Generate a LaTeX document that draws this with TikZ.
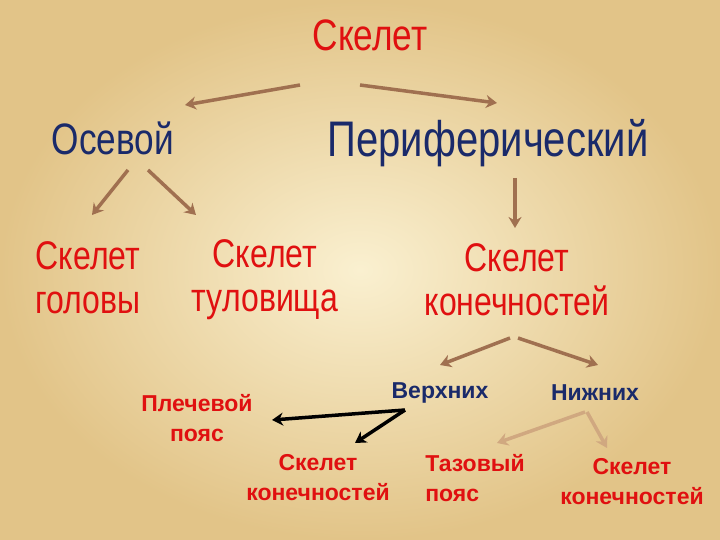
\documentclass[tikz,border=0pt]{standalone}
\usepackage{fontspec}
\setmainfont{Liberation Sans}
\newfontfamily\narrowf[FakeStretch=0.8]{Liberation Sans}
\usetikzlibrary{arrows.meta}
\definecolor{dblue}{HTML}{1A2A6A}
\definecolor{myred}{HTML}{E01010}
\definecolor{brn}{HTML}{A07050}
\definecolor{tan}{HTML}{D0A880}
\definecolor{bgin}{HTML}{FAF0D0}
\definecolor{bgout}{HTML}{E2C488}
\begin{document}
\begin{tikzpicture}[x=1pt,y=-1pt,
  big/.style={font=\narrowf\fontsize{44}{46}\selectfont, align=center},
  mid/.style={font=\narrowf\fontsize{40}{44}\selectfont, align=center, text=myred},
  sml/.style={font=\bfseries\fontsize{23}{30}\selectfont, align=center},
  ar/.style={draw=brn, line width=3.5pt, -{Stealth[length=11pt,width=13pt]}},
  bar/.style={draw=black, line width=3.5pt, -{Stealth[length=11pt,width=13pt]}},
  tar/.style={draw=tan, line width=3.5pt, -{Stealth[length=11pt,width=13pt]}}]
\shade[inner color=bgin, outer color=bgout] (0,0) rectangle (720,540);
\useasboundingbox (0,0) rectangle (720,540);
\node[big, text=myred] (t) at (370,35) {Скелет};
\node[big, text=dblue] (o) at (113,138) {Осевой};
\node[big, text=dblue, font=\narrowf\fontsize{50}{52}\selectfont] (p) at (488,143) {Периферический};
\node[mid] (g) at (88,278) {Скелет\\головы};
\node[mid] (tu) at (265,280) {Скелет\\туловища};
\node[mid] (k) at (517,280) {Скелет\\конечностей};
\node[sml, text=dblue] (v) at (440,393) {Верхних};
\node[sml, text=dblue] (n) at (595,393) {Нижних};
\node[sml, text=myred] (pl) at (197,418) {Плечевой\\пояс};
\node[sml, text=myred] (k2) at (318,478) {Скелет\\конечностей};
\node[sml, text=myred, align=left] (ta) at (475,478) {Тазовый\\пояс};
\node[sml, text=myred] (k3) at (632,482) {Скелет\\конечностей};
\coordinate (c1) at (300,85); \coordinate (c2) at (360,85);
\draw[ar] (c1) -- (185,105);
\draw[ar] (c2) -- (497,103);
\draw[ar] (128,170) -- (92,215);
\draw[ar] (148,170) -- (196,215);
\draw[ar] (515,178) -- (515,228);
\draw[ar] (510,338) -- (440,365);
\draw[ar] (518,338) -- (598,365);
\draw[bar] (405,410) -- (272,420);
\draw[bar] (405,410) -- (355,443);
\draw[tar] (585,412) -- (497,443);
\draw[tar] (587,412) -- (607,448);
\end{tikzpicture}
\end{document}
